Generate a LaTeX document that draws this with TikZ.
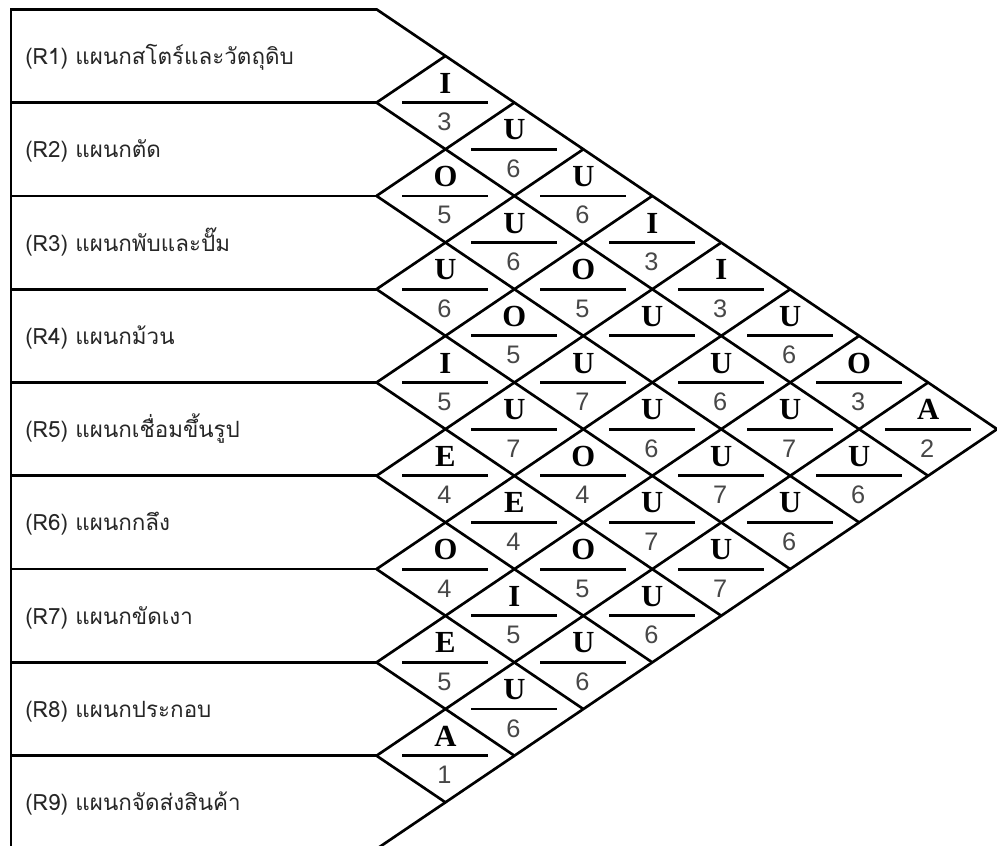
\documentclass[tikz,border=0pt]{standalone}
\usepackage{fontspec}
\usetikzlibrary{calc}
\newfontfamily\thaifont[Script=Thai]{Loma}
\newfontfamily\letterfont{Liberation Serif}
\newfontfamily\digitfont{Liberation Sans}
\begin{document}
\begin{tikzpicture}[x=0.75pt,y=-0.75pt,
  grid/.style={line width=2pt,black,line join=miter},
  fracbar/.style={line width=2.1pt,black},
  rowlabel/.style={anchor=base west,inner sep=0pt,font=\thaifont\fontsize{16.8pt}{19pt}\selectfont,text=black!85},
  rel/.style={anchor=base,inner sep=0pt,font=\letterfont\bfseries\fontsize{23pt}{26pt}\selectfont,text=black},
  score/.style={anchor=base,inner sep=0pt,font=\digitfont\fontsize{19pt}{21pt}\selectfont,text=black!72}]
\useasboundingbox (0,0) rectangle (997,846);
\clip (0,0) rectangle (997,846);
\def\xl{11}
\def\xo{376.5}
\def\w{68.95}
\def\h{46.65}
\def\yo{9.3}
% lattice coordinates
\foreach \k in {0,...,9}{
  \pgfmathsetmacro\yk{\yo+2*\h*\k}
  \pgfmathsetmacro\xd{\xo+\w*(9-\k)}
  \pgfmathsetmacro\yd{\yk+\h*(9-\k)}
  \pgfmathsetmacro\xu{\xo+\w*\k}
  \pgfmathsetmacro\yu{\yk-\h*\k}
  \coordinate (H\k) at (\xl,\yk);
  \coordinate (L\k) at (\xo,\yk);
  \coordinate (D\k) at (\xd,\yd);
  \coordinate (U\k) at (\xu,\yu);
}
% outer border and row lines
\draw[grid] (L0) -- (H0) -- (H9) -- (L9);
\foreach \k in {1,...,8}{ \draw[grid] (H\k) -- (L\k); }
% diagonals
\foreach \k in {0,...,8}{ \draw[grid] (L\k) -- (D\k); }
\foreach \k in {1,...,9}{ \draw[grid] (L\k) -- (U\k); }
% row labels
\foreach \k/\t in {1/{(R1) แผนกสโตร์และวัตถุดิบ},2/{(R2) แผนกตัด},3/{(R3) แผนกพับและปั๊ม},4/{(R4) แผนกม้วน},5/{(R5) แผนกเชื่อมขึ้นรูป},6/{(R6) แผนกกลึง},7/{(R7) แผนกขัดเงา},8/{(R8) แผนกประกอบ},9/{(R9) แผนกจัดส่งสินค้า}}{
  \pgfmathsetmacro\yc{\yo+\h*(2*\k-1)+8.5}
  \node[rowlabel] (r\k) at (25,\yc) {\t};
}
% relationship diamonds
\foreach \i/\j/\L/\N in {1/2/I/3,1/3/U/6,1/4/U/6,1/5/I/3,1/6/I/3,1/7/U/6,1/8/O/3,1/9/A/2,
  2/3/O/5,2/4/U/6,2/5/O/5,2/7/U/6,2/8/U/7,2/9/U/6,
  3/4/U/6,3/5/O/5,3/6/U/7,3/7/U/6,3/8/U/7,3/9/U/6,
  4/5/I/5,4/6/U/7,4/7/O/4,4/8/U/7,4/9/U/7,
  5/6/E/4,5/7/E/4,5/8/O/5,5/9/U/6,
  6/7/O/4,6/8/I/5,6/9/U/6,
  7/8/E/5,7/9/U/6,
  8/9/A/1}{
  \pgfmathsetmacro\cx{\xo+(\j-\i)*\w}
  \pgfmathsetmacro\cy{\yo+\h*(\i+\j-1)}
  \coordinate (c\i\j) at (\cx,\cy);
  \draw[fracbar] ($(c\i\j)+(-43,0)$) -- ($(c\i\j)+(43,0)$);
  \node[rel] (l\i\j) at ($(c\i\j)+(0,-9.5)$) {\L};
  \node[score] (n\i\j) at ($(c\i\j)+(-1,28)$) {\N};
}
% diamond R2-R6 (no score shown)
\pgfmathsetmacro\cx{\xo+4*\w}
\pgfmathsetmacro\cy{\yo+\h*7}
\coordinate (c26) at (\cx,\cy);
\draw[fracbar] ($(c26)+(-43,0)$) -- ($(c26)+(43,0)$);
\node[rel] (l26) at ($(c26)+(0,-9.5)$) {U};
\end{tikzpicture}
\end{document}
